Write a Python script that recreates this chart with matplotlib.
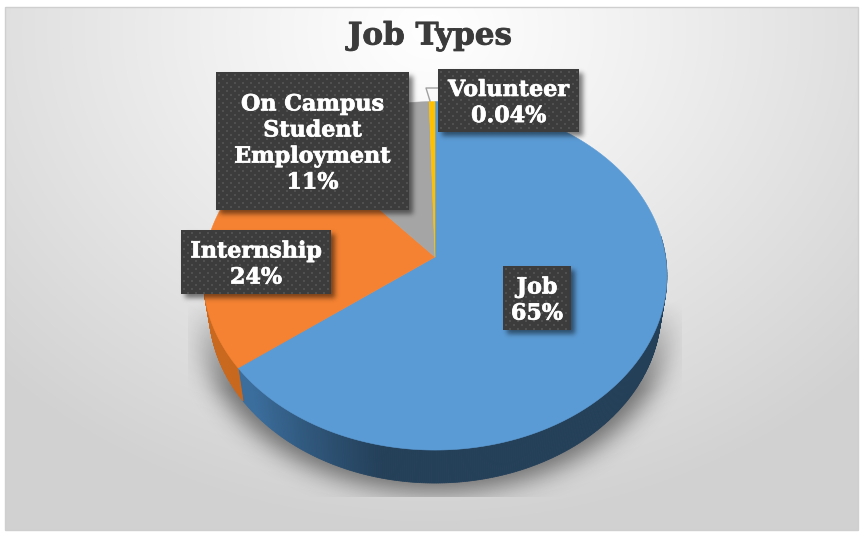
import numpy as np
import matplotlib
matplotlib.use('Agg')
import matplotlib.pyplot as plt
import matplotlib.patheffects as pe
from matplotlib.path import Path
from matplotlib.patches import Polygon, Rectangle

# data
categories = ['Job', 'Internship', 'On Campus\nStudent\nEmployment', 'Volunteer']
percent_labels = ['65%', '24%', '11%', '0.04%']
# the yellow slice is drawn wider than its 0.04% label says
slice_sizes = [65, 24, 11, 0.45]
slice_colors = ['#5b9bd5', '#f48232', '#a5a5a5', '#ffc000']
side_colors = ['#2f5f8c', '#c9681f', '#7c7c7c', '#bf9000']

title = 'Job Types'

W, H = 862, 533
fig = plt.figure(figsize=(W / 100, H / 100), dpi=100)
ax = fig.add_axes([0, 0, 1, 1])
ax.set_xlim(0, W)
ax.set_ylim(H, 0)
ax.axis('off')

xx, yy = np.meshgrid(np.arange(W) + 0.5, np.arange(H) + 0.5)


def blur(a, sigma):
    n = int(sigma * 3)
    k = np.exp(-np.arange(-n, n + 1) ** 2 / (2 * sigma ** 2))
    k /= k.sum()
    a = np.apply_along_axis(lambda r: np.convolve(r, k, mode='same'), 0, a)
    return np.apply_along_axis(lambda r: np.convolve(r, k, mode='same'), 1, a)


def overlay(alpha_mask, zorder):
    rgba = np.zeros((H, W, 4))
    rgba[..., 3] = alpha_mask
    ax.imshow(rgba, extent=(0, W, H, 0), zorder=zorder, aspect='auto', interpolation='bilinear')


# chart background
r = np.sqrt(((xx - 430) / 600) ** 2 + ((yy - 30) / 500) ** 2)
bg = 1 - 0.18 * np.clip(r, 0, 1) ** 1.1
bg[(xx < 5) | (xx > 858) | (yy < 7) | (yy > 530)] = 1
ax.imshow(np.dstack([bg, bg, bg]), extent=(0, W, H, 0), zorder=0, aspect='auto')
ax.add_patch(Rectangle((5, 7), 853, 523, fill=False, ec='#cfcfcf', lw=1, zorder=1))


# pie geometry, slightly tilted so the centre sits above the middle
cx, cy = 435, 257
sx, sy, k = 230.6, 172.2, 0.108
depth = 33
rim_scale = 0.975


def project(theta):
    u, v = np.sin(theta), np.cos(theta)
    w = 1 + k * v
    return cx + sx * u / w, cy - sy * v / w


def rim(x, y):
    # lower edge of the wall is a little narrower than the top face
    return cx + (x - cx) * rim_scale, y + depth


sizes = np.array(slice_sizes, dtype=float)
edges = np.concatenate([[0], np.cumsum(sizes) / sizes.sum() * 2 * np.pi])

# shadow under the pie
t = np.linspace(0, 2 * np.pi, 400)
px, py = project(t)
outline = Path(np.column_stack([cx + (px - cx) * 1.02, py + depth + 9]))
mask = outline.contains_points(np.column_stack([xx.ravel(), yy.ravel()])).reshape(H, W).astype(float)
shadow = blur(mask, 12) * 0.5
fade = np.clip((yy - 300) / 90, 0, 1)
shadow = shadow * fade
shadow[(xx < 188) | (xx > 682) | (yy > 497)] = 0
overlay(shadow, 2)

# side wall, shaded strip by strip
for i, (a, b) in enumerate(zip(edges[:-1], edges[1:])):
    th = np.linspace(a, b, max(int((b - a) * 120), 2))
    for t0, t1 in zip(th[:-1], th[1:]):
        if np.cos((t0 + t1) / 2) > 0.12:
            continue
        x0, y0 = project(t0)
        x1, y1 = project(t1)
        col = np.array(matplotlib.colors.to_rgb(side_colors[i]))
        if i == 0:
            # blue wall is dark on the front and right, lighter towards the left end
            pos = np.clip((t0 - np.radians(192)) / np.radians(35), 0, 1)
            col = np.array([0.14, 0.25, 0.35]) * (1 - pos) + np.array([0.23, 0.43, 0.62]) * pos
        ax.add_patch(Polygon([(x0, y0), (x1, y1), rim(x1, y1), rim(x0, y0)],
                             fc=col, ec=col, lw=0.5, zorder=3))

# top faces
for i, (a, b) in enumerate(zip(edges[:-1], edges[1:])):
    th = np.linspace(a, b, max(int((b - a) * 60), 2))
    ex, ey = project(th)
    pts = [(cx, cy)] + list(zip(ex, ey))
    ax.add_patch(Polygon(pts, closed=True, fc=slice_colors[i], ec=slice_colors[i], lw=0.4,
                         joinstyle='round', zorder=4))

# leader line to the volunteer label
ax.plot([430, 426, 440], [101, 88, 88], color='#a0a0a0', lw=1, zorder=5)

# data labels
label_boxes = [(503, 266, 571, 330), (181, 230, 331, 294), (216, 72, 409, 210), (438, 69, 579, 132)]
box_shadow = np.zeros((H, W))
for x0, y0, x1, y1 in label_boxes:
    box_shadow[(xx > x0 + 4) & (xx < x1 + 4) & (yy > y0 + 4) & (yy < y1 + 4)] = 1
overlay(blur(box_shadow, 2.5) * 0.5, 6)

for (x0, y0, x1, y1), cat, pct in zip(label_boxes, categories, percent_labels):
    ax.add_patch(Rectangle((x0, y0), x1 - x0, y1 - y0, fc='#3c3c3c', ec='none', zorder=7))
    dots_x, dots_y = [], []
    for row, dy in enumerate(np.arange(y0 + 3, y1, 4)):
        for dx in np.arange(x0 + 3 + (row % 2) * 4, x1 - 1, 8):
            dots_x.append(dx)
            dots_y.append(dy)
    ax.scatter(dots_x, dots_y, s=1.2, marker='s', color='#505050', linewidths=0, zorder=8)
    ax.text((x0 + x1) / 2, (y0 + y1) / 2 + 2.5, cat + '\n' + pct, color='white', ha='center', va='center',
            family='DejaVu Serif', fontweight='bold', fontsize=16, linespacing=1.24, zorder=9,
            path_effects=[pe.withStroke(linewidth=0.5, foreground='white')])

ax.text(430, 36, title, color='#3b3b3b', ha='center', va='center',
        family='DejaVu Serif', fontweight='bold', fontsize=22.3, zorder=9,
        path_effects=[pe.withStroke(linewidth=0.6, foreground='#3b3b3b')])

fig.savefig('out.png', dpi=100)
